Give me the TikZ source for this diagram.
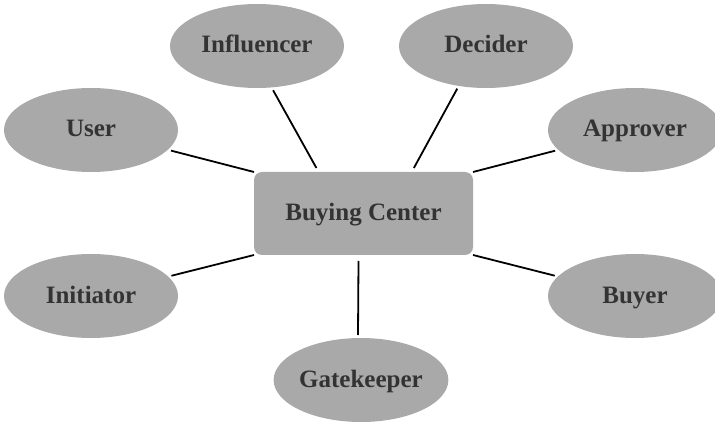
\documentclass[tikz,border=0pt]{standalone}
\usepackage{fontspec}
\setmainfont{Liberation Serif}
\usetikzlibrary{shapes.geometric,calc}
\definecolor{nodegray}{HTML}{A9A9A9}
\definecolor{txtgray}{HTML}{333333}
\tikzset{
  role/.style={ellipse, fill=nodegray, minimum width=174pt, minimum height=84pt, inner sep=0pt, outer sep=3pt,
    text=txtgray, text height=17pt, text depth=3pt, font=\fontsize{25}{28}\selectfont\bfseries},
  hub/.style={rectangle, rounded corners=8pt, fill=nodegray, minimum width=219pt, minimum height=83pt, inner sep=0pt, outer sep=0pt,
    text=txtgray, text height=17pt, text depth=3pt, font=\fontsize{25}{28}\selectfont\bfseries},
  link/.style={draw=black, line width=1.8pt}
}
\begin{document}
\begin{tikzpicture}[x=1pt,y=-1pt]
\useasboundingbox (0,0) rectangle (715,422);
\node[hub] (bc) at (363.5,213.5) {Buying Center};
\node[role] (user) at (91,130) {User};
\node[role] (inf) at (257,46) {Influencer};
\node[role] (dec) at (486,46) {Decider};
\node[role] (app) at (635,130) {Approver};
\node[role] (ini) at (91,296) {Initiator};
\node[role] (buy) at (635,296) {Buyer};
\node[role] (gate) at (361,380) {Gatekeeper};
\draw[link] (user) -- (bc.north west);
\draw[link] (inf.-70) -- ([yshift=4pt]$(bc.north west)!0.285!(bc.north east)$);
\draw[link] (dec.-124) -- ([yshift=4pt]$(bc.north west)!0.73!(bc.north east)$);
\draw[link] (app) -- (bc.north east);
\draw[link] (ini) -- (bc.south west);
\draw[link] (buy) -- (bc.south east);
\draw[link] ([xshift=-5pt,yshift=-6pt]bc.south) -- ([xshift=-3pt]gate.north);
\end{tikzpicture}
\end{document}
